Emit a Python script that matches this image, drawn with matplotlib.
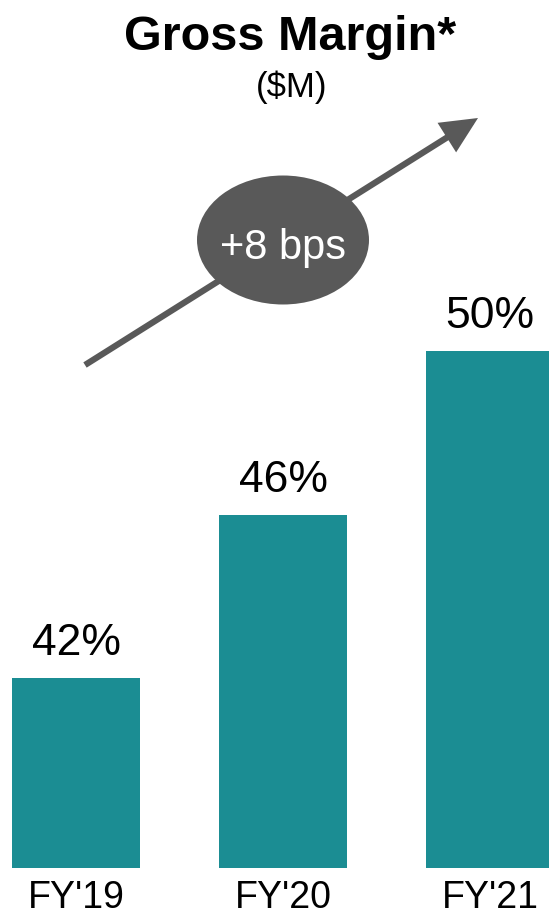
import matplotlib
matplotlib.use("Agg")
import matplotlib.pyplot as plt
from matplotlib.patches import Ellipse

plt.rcParams['font.family'] = ['Liberation Sans', 'DejaVu Sans']

categories = ["FY'19", "FY'20", "FY'21"]
margins = [42, 46, 50]
labels = ["42%", "46%", "50%"]
change_label = "+8 bps"
title = "Gross Margin*"
subtitle = "($M)"

W, H = 549, 919
fig = plt.figure(figsize=(W / 100, H / 100), dpi=100)
fig.patch.set_facecolor('white')

ax_bottom_px = 868
ax = fig.add_axes([0, (H - ax_bottom_px) / H, 1, ax_bottom_px / H])
ax.set_facecolor('none')

px_per_unit = 207.0
y_scale = 40.875
x0 = 76.0
ax.set_xlim(-x0 / px_per_unit, (W - x0) / px_per_unit)
ylow = 37.356
ax.set_ylim(ylow, ylow + ax_bottom_px / y_scale)

xs = list(range(len(categories)))
bars = ax.bar(xs, [m - ylow for m in margins], bottom=ylow, width=128 / px_per_unit,
              color='#1b8d93', edgecolor='none')
for x, m, lab in zip(xs, margins, labels):
    ax.annotate(lab, (x, m), xytext=(0, 10), textcoords='offset points',
                ha='center', va='bottom', fontsize=32, color='black')

ax.set_xticks(xs)
ax.set_xticklabels(categories, fontsize=27)
ax.tick_params(axis='x', length=0, pad=9)
ax.set_yticks([])
for s in ax.spines.values():
    s.set_visible(False)

# title
fig.text(290 / W, 1 - 50 / H, title, ha='center', va='baseline',
         fontsize=35, fontweight='bold', color='black')
fig.text(292 / W, 1 - 97 / H, subtitle, ha='center', va='baseline',
         fontsize=25, color='black')

# arrow
ax.annotate("", xy=(478 / W, 1 - 118 / H), xytext=(85 / W, 1 - 365 / H),
            xycoords='figure fraction', textcoords='figure fraction',
            arrowprops=dict(arrowstyle='-|>,head_length=1.9,head_width=0.9',
                            lw=4.5, color='#595959', mutation_scale=10,
                            shrinkA=0, shrinkB=0, joinstyle='miter',
                            capstyle='butt'))

ell = Ellipse((283 / W, 1 - 240 / H), 172 / W, 129 / H, transform=fig.transFigure,
              facecolor='#595959', edgecolor='none', zorder=5)
fig.add_artist(ell)
fig.text(283 / W, 1 - 243 / H, change_label, ha='center', va='center_baseline',
         fontsize=30, color='white', zorder=6)

fig.savefig('out.png', dpi=100, facecolor='white')
